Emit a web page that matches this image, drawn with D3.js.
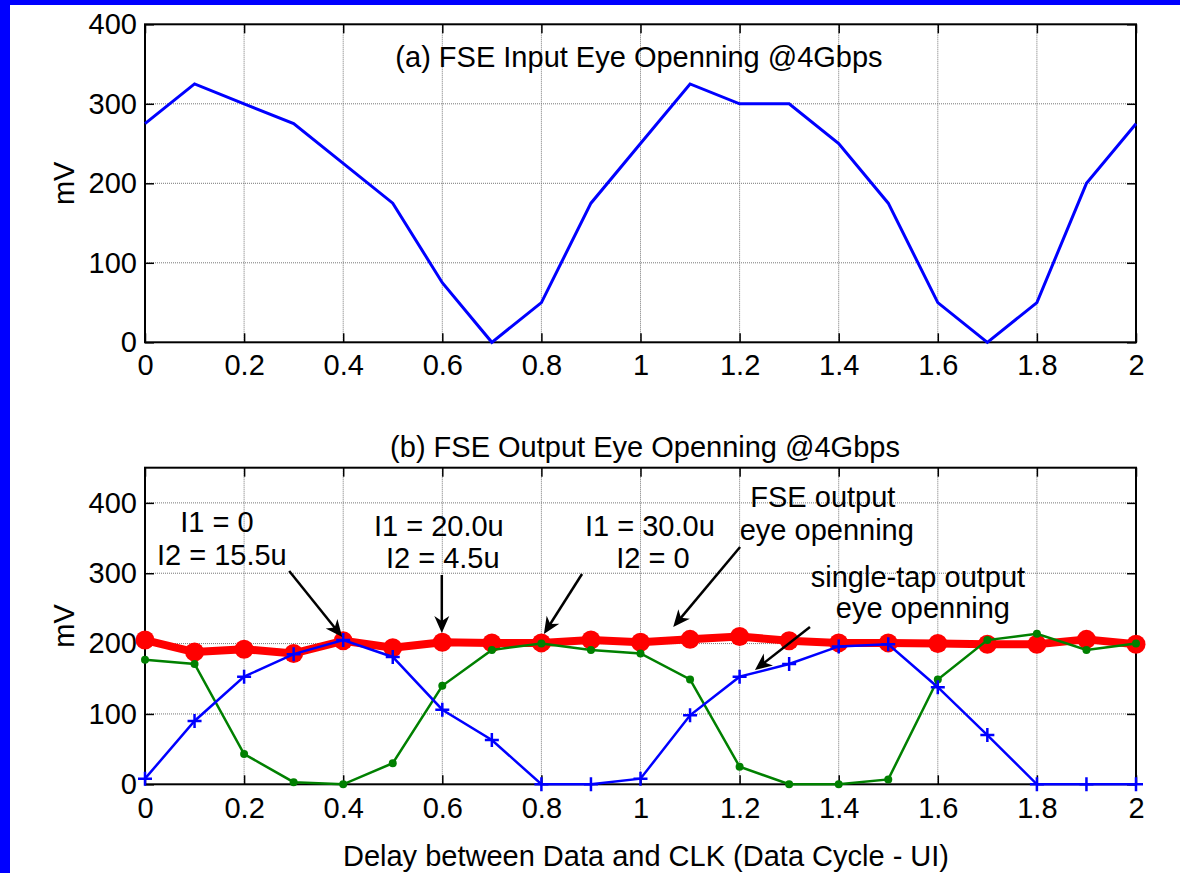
<!DOCTYPE html>
<html>
<head>
<meta charset="utf-8">
<script src="https://cdn.jsdelivr.net/npm/d3@7"></script>
<style>
  html, body { margin: 0; padding: 0; background: #fff; }
  svg { display: block; }
  text { font-family: "Liberation Sans", Arial, sans-serif; }
</style>
</head>
<body>
<svg id="chart" width="1180" height="873"></svg>
<script>
// ---------------- data ----------------
const delay = [0,0.1,0.2,0.3,0.4,0.5,0.6,0.7,0.8,0.9,1.0,1.1,1.2,1.3,1.4,1.5,1.6,1.7,1.8,1.9,2.0];
const inputEye = [275,325,300,275,225,175,75,0,50,175,250,325,300,300,250,175,50,0,50,200,275];
const fseEye    = [205,188,192,186,204,194,202,201,201,205,202,206,210,204,201,201,200,199,199,206,199];
const tap1Eye   = [177,171,43,3,0,30,140,191,200,191,186,149,25,0,0,7,149,205,214,191,200];
const tap2Eye   = [8,90,153,185,205,181,106,63,0,0,8,98,153,171,196,199,138,70,0,0,0];
const xTicks = [0,0.2,0.4,0.6,0.8,1,1.2,1.4,1.6,1.8,2];
const yTicksA = [0,100,200,300,400];
const yTicksB = [0,100,200,300,400];
const titleA = "(a) FSE Input Eye Openning @4Gbps";
const titleB = "(b) FSE Output Eye Openning @4Gbps";
const xLabel = "Delay between Data and CLK (Data Cycle - UI)";
const yLabel = "mV";
// annotations (data units of panel b)
const notes = [
  {t:"I1 = 0", x:0.145, y:358.6},
  {t:"I2 = 15.5u", x:0.155, y:311.7},
  {t:"I1 = 20.0u", x:0.593, y:352.9},
  {t:"I2 = 4.5u", x:0.601, y:307.4},
  {t:"I1 = 30.0u", x:1.019, y:352.9},
  {t:"I2 = 0", x:1.025, y:307.4},
  {t:"FSE output", x:1.368, y:394.1},
  {t:"eye openning", x:1.376, y:347.2},
  {t:"single-tap output", x:1.560, y:280.4},
  {t:"eye openning", x:1.570, y:236.4}
];
const arrows = [
  {x1:0.291, y1:303.2, x2:0.398, y2:209.4},
  {x1:0.599, y1:297.5, x2:0.599, y2:215.0},
  {x1:0.882, y1:298.9, x2:0.805, y2:213.6},
  {x1:1.201, y1:337.3, x2:1.066, y2:223.6},
  {x1:1.342, y1:223.6, x2:1.231, y2:162.5}
];

// ---------------- layout ----------------
const svg = d3.select("#chart");
const W = 1180, H = 873;
const FS = 29;
svg.append("rect").attr("width", W).attr("height", H).attr("fill", "#fff");
svg.append("rect").attr("x",0).attr("y",0).attr("width",10).attr("height",H).attr("fill","#0000ff");
svg.append("rect").attr("x",0).attr("y",0).attr("width",W).attr("height",5).attr("fill","#0000ff");

const L = 145, R = 1136;
const x = d3.scaleLinear().domain([0,2]).range([L,R]);
const yA = d3.scaleLinear().domain([0,400]).range([342.3,24.3]);
const yB = d3.scaleLinear().domain([0,450]).range([784.3,467.7]);

function panel(y, yTicks, xPad) {
  const g = svg.append("g");
  const [y0, y1] = y.range();
  // grid
  g.append("g").selectAll("line.gx").data(xTicks.filter(d => d > 0 && d < 2)).join("line")
    .attr("x1", d => x(d)).attr("x2", d => x(d)).attr("y1", y0).attr("y2", y1)
    .attr("stroke", "#777").attr("stroke-width", 1).attr("stroke-dasharray", "1,1");
  g.append("g").selectAll("line.gy").data(yTicks.filter(d => d > y.domain()[0] && d < y.domain()[1])).join("line")
    .attr("x1", L).attr("x2", R).attr("y1", d => y(d)).attr("y2", d => y(d))
    .attr("stroke", "#777").attr("stroke-width", 1).attr("stroke-dasharray", "1,1");
  const fmt = d3.format("~g");
  const axB = g.append("g").attr("transform", `translate(0,${y0})`)
    .call(d3.axisBottom(x).tickValues(xTicks).tickFormat(fmt).tickSizeInner(-9).tickSizeOuter(0).tickPadding(xPad));
  const axT = g.append("g").attr("transform", `translate(0,${y1})`)
    .call(d3.axisTop(x).tickValues(xTicks).tickFormat("").tickSizeInner(-9).tickSizeOuter(0));
  const axL = g.append("g").attr("transform", `translate(${L},0)`)
    .call(d3.axisLeft(y).tickValues(yTicks).tickFormat(fmt).tickSizeInner(-9).tickSizeOuter(0).tickPadding(8));
  const axR = g.append("g").attr("transform", `translate(${R},0)`)
    .call(d3.axisRight(y).tickValues(yTicks).tickFormat("").tickSizeInner(-9).tickSizeOuter(0));
  [axB, axT, axL, axR].forEach(a => {
    a.attr("font-size", FS).attr("font-family", "Liberation Sans, Arial, sans-serif");
    a.selectAll("text").attr("fill", "#000");
    a.selectAll("line").attr("stroke", "#000").attr("stroke-width", 1.5);
    a.select(".domain").remove();
  });
  g.append("rect").attr("x", L).attr("y", y1).attr("width", R - L).attr("height", y0 - y1)
    .attr("fill", "none").attr("stroke", "#000").attr("stroke-width", 2);
  // y label
  g.append("text").attr("transform", `translate(74,${(y0 + y1) / 2}) rotate(-90)`)
    .attr("text-anchor", "middle").attr("font-size", FS).attr("fill", "#000").text(yLabel);
  return g;
}

// Panel (a)
const gA = panel(yA, yTicksA, 12);
gA.append("path").datum(delay.map((d,i)=>[d, inputEye[i]]))
  .attr("d", d3.line().x(d=>x(d[0])).y(d=>yA(d[1])))
  .attr("fill","none").attr("stroke","#0000ff").attr("stroke-width",3).attr("stroke-linejoin","miter");
svg.append("text").attr("x", 639).attr("y", 67).attr("text-anchor","middle")
  .attr("font-size", FS).attr("fill","#000").text(titleA);

// Panel (b)
const gB = panel(yB, yTicksB, 13);
const lineB = d3.line().x(d=>x(d[0])).y(d=>yB(d[1]));
const red = delay.map((d,i)=>[d, fseEye[i]]);
const green = delay.map((d,i)=>[d, tap1Eye[i]]);
const blue = delay.map((d,i)=>[d, tap2Eye[i]]);

gB.append("path").datum(red).attr("d", lineB).attr("fill","none")
  .attr("stroke","#ff0000").attr("stroke-width",8).attr("stroke-linejoin","round");
gB.append("g").selectAll("circle").data(red).join("circle")
  .attr("cx", d=>x(d[0])).attr("cy", d=>yB(d[1])).attr("r", 9.5).attr("fill","#ff0000");

gB.append("path").datum(green).attr("d", lineB).attr("fill","none")
  .attr("stroke","#008000").attr("stroke-width",2.5);
gB.append("g").selectAll("circle").data(green).join("circle")
  .attr("cx", d=>x(d[0])).attr("cy", d=>yB(d[1])).attr("r", 4).attr("fill","#008000");

gB.append("path").datum(blue).attr("d", lineB).attr("fill","none")
  .attr("stroke","#0000ff").attr("stroke-width",2.5);
gB.append("g").selectAll("path.plus").data(blue).join("path")
  .attr("d", d => `M${x(d[0])-7},${yB(d[1])}H${x(d[0])+7}M${x(d[0])},${yB(d[1])-7}V${yB(d[1])+7}`)
  .attr("stroke","#0000ff").attr("stroke-width",2.5);

svg.append("text").attr("x", 645).attr("y", 457).attr("text-anchor","middle")
  .attr("font-size", FS).attr("fill","#000").text(titleB);

// annotations
gB.append("g").selectAll("text").data(notes).join("text")
  .attr("x", d=>x(d.x)).attr("y", d=>yB(d.y)).attr("text-anchor","middle")
  .attr("font-size", FS).attr("fill","#000").text(d=>d.t);

const ag = gB.append("g");
arrows.forEach(a => {
  const X1 = x(a.x1), Y1 = yB(a.y1), X2 = x(a.x2), Y2 = yB(a.y2);
  const ang = Math.atan2(Y2 - Y1, X2 - X1);
  const len = 17, hw = 7.5, notch = 5;
  const ux = Math.cos(ang), uy = Math.sin(ang), px = -uy, py = ux;
  const bx = X2 - ux*len, by = Y2 - uy*len;
  ag.append("line").attr("x1", X1).attr("y1", Y1).attr("x2", X2 - ux*8).attr("y2", Y2 - uy*8)
    .attr("stroke","#000").attr("stroke-width",2.5);
  ag.append("path").attr("d",
    `M${X2},${Y2}L${bx + px*hw},${by + py*hw}L${X2 - ux*(len-notch)},${Y2 - uy*(len-notch)}L${bx - px*hw},${by - py*hw}Z`)
    .attr("fill","#000");
});

// x label
svg.append("text").attr("x", 646).attr("y", 866).attr("text-anchor","middle")
  .attr("font-size", FS).attr("fill","#000").text(xLabel);
</script>
</body>
</html>
